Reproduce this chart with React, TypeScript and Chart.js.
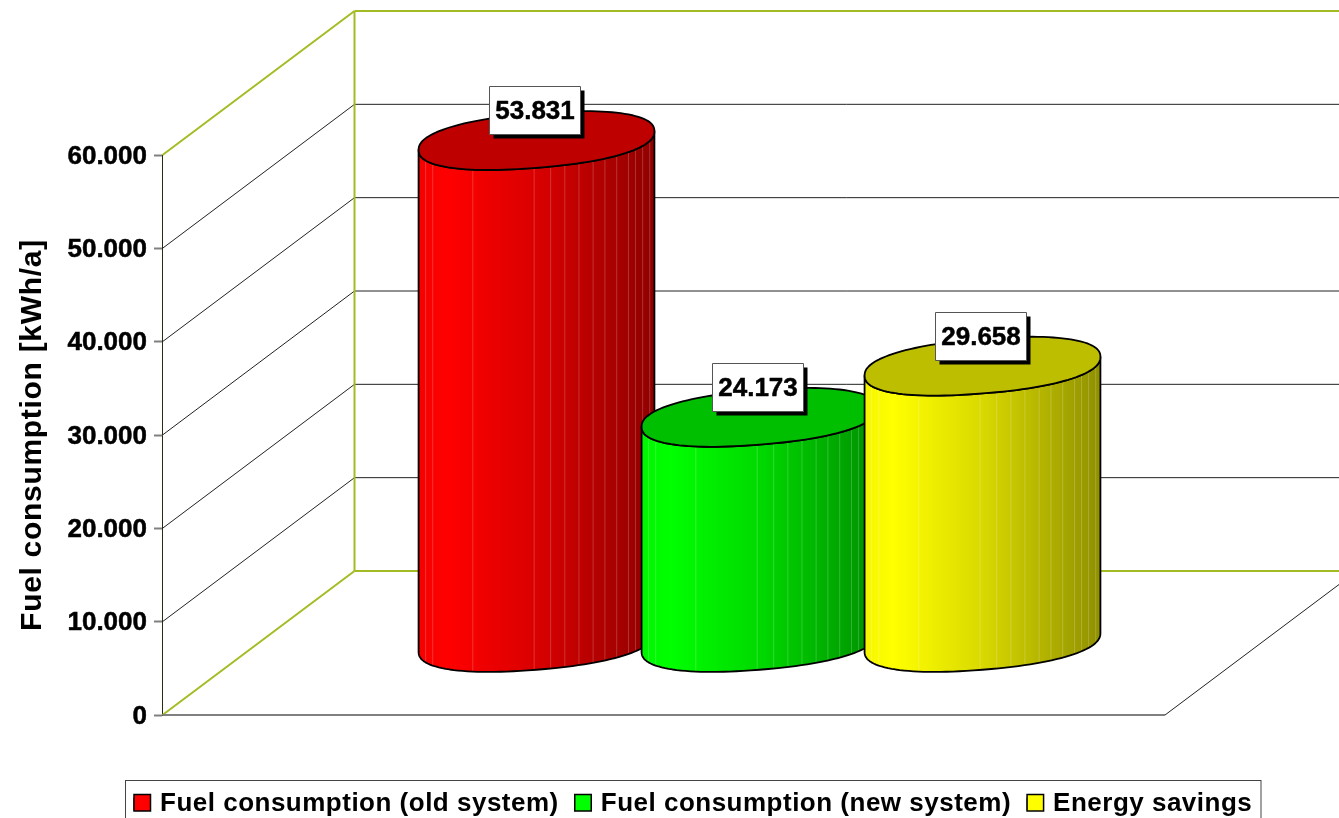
import React, { useEffect, useRef } from "react";
import { Chart, registerables } from "chart.js";

Chart.register(...registerables);

const categories = ["Fuel consumption"];
const seriesNames = [
  "Fuel consumption (old system)",
  "Fuel consumption (new system)",
  "Energy savings",
];
const oldSystem = [53831];
const newSystem = [24173];
const energySavings = [29658];
const seriesColors = ["#ff0000", "#00ff00", "#ffff00"];
const rgb = [
  [255, 0, 0],
  [0, 255, 0],
  [255, 255, 0],
];

const FONT = '"Liberation Sans", Arial, sans-serif';
const DEPTH_X = 192;
const DEPTH_Y = -144;
const RADIUS_DEPTH = 0.2;
const OLIVE = "#a4bc24";
const ROUND = 0.88;
const shadeStops = [
  [0, 0.96],
  [0.12, 1],
  [0.5, 0.85],
  [0.8, 0.68],
  [1, 0.56],
];
const facetFractions = [0.03, 0.06, 0.23, 0.49, 0.56, 0.62, 0.68, 0.74, 0.79, 0.84, 0.89, 0.92, 0.95, 0.98];
const nf = new Intl.NumberFormat("de-DE");

function shade(c: number[], k: number) {
  return `rgb(${Math.round(c[0] * k)},${Math.round(c[1] * k)},${Math.round(c[2] * k)})`;
}

function line(ctx: CanvasRenderingContext2D, x1: number, y1: number, x2: number, y2: number, color: string, w: number) {
  ctx.strokeStyle = color;
  ctx.lineWidth = w;
  ctx.beginPath();
  ctx.moveTo(x1, y1);
  ctx.lineTo(x2, y2);
  ctx.stroke();
}

const spow = (v: number) => Math.sign(v) * Math.pow(Math.abs(v), ROUND);

function drawCylinder(ctx: CanvasRenderingContext2D, el: any, c: number[]) {
  const cx = el.x + DEPTH_X / 2;
  const topY = el.y + DEPTH_Y / 2;
  const botY = el.base + DEPTH_Y / 2;
  const u = el.width / 2;
  const vx = DEPTH_X * RADIUS_DEPTH;
  const vy = DEPTH_Y * RADIUS_DEPTH;
  const tr = Math.atan2(vx, u);
  const A = Math.hypot(u, vx);
  const px = (t: number) => cx + A * spow(Math.cos(t - tr));
  const py = (base: number, t: number) => {
    const q = t - tr;
    const along = spow(Math.cos(q)) * Math.sin(tr);
    const across = spow(Math.sin(q)) * Math.cos(tr);
    return base + vy * (along + across);
  };

  const grad = ctx.createLinearGradient(cx - A, 0, cx + A, 0);
  shadeStops.forEach(([p, k]) => grad.addColorStop(p, shade(c, k)));

  const N = 60;
  const side = new Path2D();
  for (let i = 0; i <= N; i++) {
    const t = tr + Math.PI + (Math.PI * i) / N;
    if (i === 0) side.moveTo(px(t), py(botY, t));
    else side.lineTo(px(t), py(botY, t));
  }
  for (let i = N; i >= 0; i--) {
    const t = tr + Math.PI + (Math.PI * i) / N;
    side.lineTo(px(t), py(topY, t));
  }
  side.closePath();
  ctx.fillStyle = grad;
  ctx.fill(side);

  facetFractions.forEach((f) => {
    const x = cx - A + 2 * A * f;
    const ratio = Math.max(-1, Math.min(1, (x - cx) / A));
    const q = Math.sign(ratio) * Math.pow(Math.abs(ratio), 1 / ROUND);
    const t = tr + 2 * Math.PI - Math.acos(q);
    line(ctx, x, py(botY, t), x, py(topY, t), "rgba(255,255,255,0.2)", 1);
  });

  ctx.strokeStyle = "#000";
  ctx.lineWidth = 1.8;
  ctx.lineJoin = "round";
  ctx.stroke(side);

  const top = new Path2D();
  for (let i = 0; i <= 2 * N; i++) {
    const t = (Math.PI * i) / N;
    if (i === 0) top.moveTo(px(t), py(topY, t));
    else top.lineTo(px(t), py(topY, t));
  }
  top.closePath();
  ctx.fillStyle = shade(c, 0.745);
  ctx.fill(top);
  ctx.stroke(top);
}

function drawValueLabel(ctx: CanvasRenderingContext2D, el: any, value: number) {
  const cx = el.x + DEPTH_X / 2 - 2;
  const cy = el.y + DEPTH_Y / 2 - 30.5;
  const w = 91;
  const h = 48;
  const l = Math.round(cx - w / 2) + 0.5;
  const t = Math.round(cy - h / 2) + 0.5;
  ctx.fillStyle = "#000";
  ctx.fillRect(l + 4, t + 4, w, h);
  ctx.fillStyle = "#fff";
  ctx.fillRect(l, t, w, h);
  ctx.strokeStyle = "#555";
  ctx.lineWidth = 1;
  ctx.strokeRect(l, t, w, h);
  ctx.fillStyle = "#000";
  ctx.strokeStyle = "#000";
  ctx.lineWidth = 0.5;
  ctx.font = `bold 26px ${FONT}`;
  ctx.textAlign = "center";
  ctx.textBaseline = "middle";
  ctx.fillText(nf.format(value), l + w / 2, t + h / 2 + 1);
  ctx.strokeText(nf.format(value), l + w / 2, t + h / 2 + 1);
}

const scenePlugin = {
  id: "scene3d",
  beforeLayout(chart: any) {
    chart.ctx.letterSpacing = "0.5px";
  },
  afterLayout(chart: any) {
    chart.ctx.letterSpacing = "0px";
    const legend = chart.legend;
    if (!legend.__wrapped) {
      legend.__wrapped = true;
      const orig = legend.draw;
      legend.draw = function () {
        const ctx = chart.ctx;
        const hb = legend.legendHitBoxes[0];
        const dx = 134 - hb.left;
        const dy = 804 - (hb.top + hb.height / 2);
        ctx.save();
        ctx.translate(dx, dy);
        ctx.letterSpacing = "0.5px";
        orig.call(legend);
        ctx.letterSpacing = "0px";
        legend.legendHitBoxes.forEach((b: any, i: number) => {
          ctx.fillStyle = seriesColors[i];
          ctx.strokeStyle = "#000";
          ctx.lineWidth = 1.5;
          const cy = b.top + b.height / 2;
          ctx.fillRect(b.left, cy - 9.5, 16.5, 16.5);
          ctx.strokeRect(b.left, cy - 9.5, 16.5, 16.5);
        });
        ctx.restore();
        ctx.strokeStyle = "#444";
        ctx.lineWidth = 1;
        ctx.strokeRect(125.5, 780.5, 1135.5, 60);
      };
    }
    const y = chart.scales.y;
    if (!y.__wrapped) {
      y.__wrapped = true;
      const origTitle = y.drawTitle;
      y.drawTitle = function () {
        const ctx = chart.ctx;
        ctx.save();
        ctx.letterSpacing = "0.7px";
        origTitle.call(y);
        ctx.restore();
      };
      const origLabels = y.drawLabels;
      y.drawLabels = function (area: any) {
        const ctx = chart.ctx;
        ctx.save();
        ctx.translate(0, 1.5);
        origLabels.call(y, area);
        ctx.restore();
      };
    }
  },
  beforeDatasetsDraw(chart: any) {
    const { ctx, chartArea, scales } = chart;
    const yS = scales.y;
    const L = chartArea.left + 0.5;
    const R = chartArea.right;
    const W = chart.width;
    const yTop = yS.getPixelForValue(60000);
    const y0 = yS.getPixelForValue(0);
    ctx.save();
    yS.ticks.forEach((tk: any) => {
      if (tk.value === 0 || tk.value === 60000) return;
      const y = yS.getPixelForValue(tk.value);
      line(ctx, L, y, L + DEPTH_X, y + DEPTH_Y, "#222", 1);
      line(ctx, L + DEPTH_X, y + DEPTH_Y, W, y + DEPTH_Y, "#222", 1);
    });
    line(ctx, R, y0, W, y0 + (W - R) * (DEPTH_Y / DEPTH_X), "#222", 1);
    line(ctx, L, y0, L + DEPTH_X, y0 + DEPTH_Y, OLIVE, 2);
    line(ctx, L, yTop, L + DEPTH_X, yTop + DEPTH_Y, OLIVE, 2);
    line(ctx, L + DEPTH_X, yTop + DEPTH_Y, L + DEPTH_X, y0 + DEPTH_Y, OLIVE, 2);
    line(ctx, L + DEPTH_X, yTop + DEPTH_Y, W, yTop + DEPTH_Y, OLIVE, 2);
    line(ctx, L + DEPTH_X, y0 + DEPTH_Y, W, y0 + DEPTH_Y, OLIVE, 2);
    line(ctx, L, y0, R, y0, "#808080", 2);

    const metas = chart.data.datasets.map((_: any, i: number) => chart.getDatasetMeta(i));
    metas.forEach((m: any, i: number) => drawCylinder(ctx, m.data[0], rgb[i]));
    metas.forEach((m: any, i: number) => drawValueLabel(ctx, m.data[0], chart.data.datasets[i].data[0]));
    ctx.restore();
    return false;
  },
};

export default function App() {
  const ref = useRef<HTMLCanvasElement | null>(null);
  useEffect(() => {
    document.body.style.margin = "0";
    document.body.style.overflow = "hidden";
    const values = [oldSystem, newSystem, energySavings];
    const chart = new Chart(ref.current as HTMLCanvasElement, {
      type: "bar",
      data: {
        labels: categories,
        datasets: seriesNames.map((label, i) => ({
          label,
          data: values[i],
          backgroundColor: seriesColors[i],
          borderColor: "#000",
          borderWidth: 1,
          barPercentage: 1,
          categoryPercentage: 0.667,
        })),
      },
      options: {
        responsive: false,
        animation: false,
        events: [],
        layout: { padding: { top: 155, right: 174, left: 0, bottom: 0 } },
        plugins: {
          tooltip: { enabled: false },
          title: { display: false },
          legend: {
            display: true,
            position: "bottom",
            labels: {
              color: "#000",
              boxWidth: 13,
              boxHeight: 13,
              padding: 16,
              font: { family: FONT, size: 26, weight: "bold" },
            },
          },
        },
        scales: {
          x: {
            display: true,
            grid: { display: false },
            border: { display: false },
            ticks: { display: false },
            afterFit: (s: any) => {
              s.height = s.chart.height - 715 - (s.chart.legend ? s.chart.legend.height : 0);
            },
          },
          y: {
            min: 0,
            max: 60000,
            afterFit: (s: any) => {
              s.width = 162;
            },
            ticks: {
              stepSize: 10000,
              color: "#000",
              padding: 7,
              textStrokeColor: "#000",
              textStrokeWidth: 0.5,
              font: { family: FONT, size: 26, weight: "bold" },
              callback: (v: any) => nf.format(Number(v)),
            },
            grid: {
              drawOnChartArea: false,
              drawTicks: true,
              tickLength: 8,
              tickWidth: 2,
              tickColor: "#808080",
            },
            border: { display: true, color: "#2a2a10", width: 1 },
            title: {
              display: true,
              text: "Fuel consumption [kWh/a]",
              color: "#000",
              padding: { top: 15, bottom: 0 },
              font: { family: FONT, size: 30, weight: "bold" },
            },
          },
        },
      } as any,
      plugins: [scenePlugin as any],
    });
    return () => chart.destroy();
  }, []);
  return (
    <div style={{ width: 1339, height: 818, overflow: "hidden", background: "#fff" }}>
      <canvas ref={ref} width={1339} height={818} style={{ display: "block" }} />
    </div>
  );
}
